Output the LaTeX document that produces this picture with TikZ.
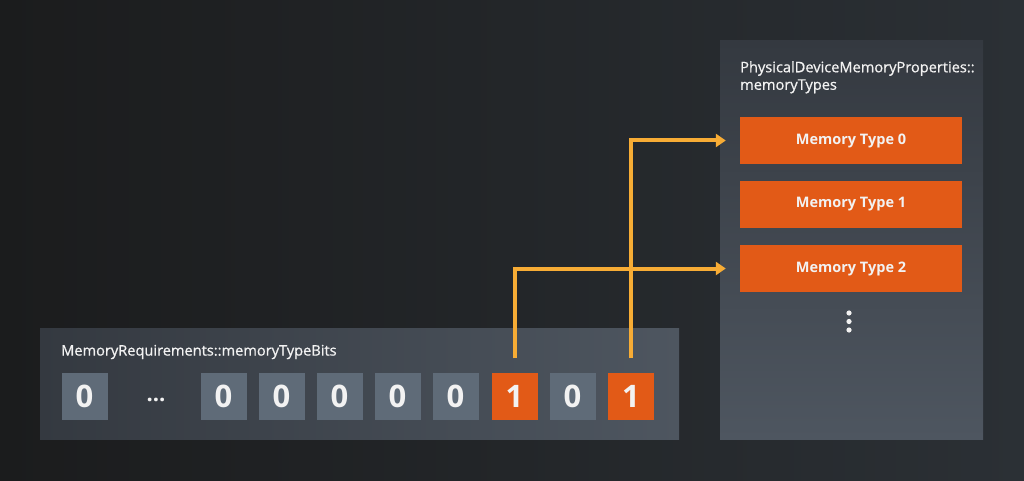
\documentclass[tikz,border=0pt]{standalone}
\usepackage{fontspec}
\setmainfont{Open Sans}
\newfontfamily\titlefont[FakeBold=0.8]{Open Sans}
\usetikzlibrary{arrows.meta}
\definecolor{bgA}{HTML}{1B1C1D}
\definecolor{bgB}{HTML}{2B3035}
\definecolor{panA}{HTML}{343940}
\definecolor{panB}{HTML}{4E5660}
\definecolor{bitgray}{HTML}{5F6B78}
\definecolor{bitorange}{HTML}{E25A17}
\definecolor{arrowc}{HTML}{F7AC35}
\definecolor{txt}{HTML}{F2F2F2}
\begin{document}
\begin{tikzpicture}[x=1pt,y=-1pt,
  bitbox/.style={minimum width=46pt,minimum height=47pt,inner sep=0pt,
    text=txt,font=\fontsize{31}{31}\selectfont\bfseries},
  zerobit/.style={bitbox,fill=bitgray},
  onebit/.style={bitbox,fill=bitorange},
  memtype/.style={fill=bitorange,minimum width=222pt,minimum height=47pt,
    inner sep=0pt,text=txt,font=\fontsize{14.5}{14.5}\selectfont\bfseries},
  paneltitle/.style={text=txt,font=\titlefont\fontsize{14.6}{17.5}\selectfont,inner sep=0pt,align=left},
  link/.style={draw=arrowc,line width=4pt,-{Triangle[length=10pt,width=13pt]},
    shorten <=14pt,shorten >=14pt}
]
\useasboundingbox (0,0) rectangle (1024,481);
% background
\shade[left color=bgA,right color=bgB] (0,0) rectangle (1024,481);
% panels
\shade[left color=panA,right color=panB] (40,328) rectangle (679,439);
\shade[top color=panA,bottom color=panB] (720,41) rectangle (983,439);
% titles
\node[paneltitle,anchor=west] (t1) at (61,352) {MemoryRequirements::memoryTypeBits};
\node[paneltitle,anchor=north west] (t2) at (740,61) {PhysicalDeviceMemoryProperties::\\memoryTypes};
% bits
\node[zerobit] (bN) at (84.5,396) {0};
\node[text=txt,font=\fontsize{22}{22}\selectfont\bfseries] (dots) at (156,400) {...};
\node[zerobit] (b7) at (223.5,396) {0};
\node[zerobit] (b6) at (281.5,396) {0};
\node[zerobit] (b5) at (339.5,396) {0};
\node[zerobit] (b4) at (397.5,396) {0};
\node[zerobit] (b3) at (455.5,396) {0};
\node[onebit] (b2) at (514.5,396) {1};
\node[zerobit] (b1) at (572.5,396) {0};
\node[onebit] (b0) at (631,396) {1};
% memory types
\node[memtype] (m0) at (851,140.5) {Memory Type 0};
\node[memtype] (m1) at (851,204.5) {Memory Type 1};
\node[memtype] (m2) at (851,268.5) {Memory Type 2};
\foreach \yy in {313,321.5,330} \fill[txt] (849,\yy) circle (2.6pt);
% arrows
\draw[link] (b2.north) |- (m2.west);
\draw[link] (b0.north) |- (m0.west);
\end{tikzpicture}
\end{document}
